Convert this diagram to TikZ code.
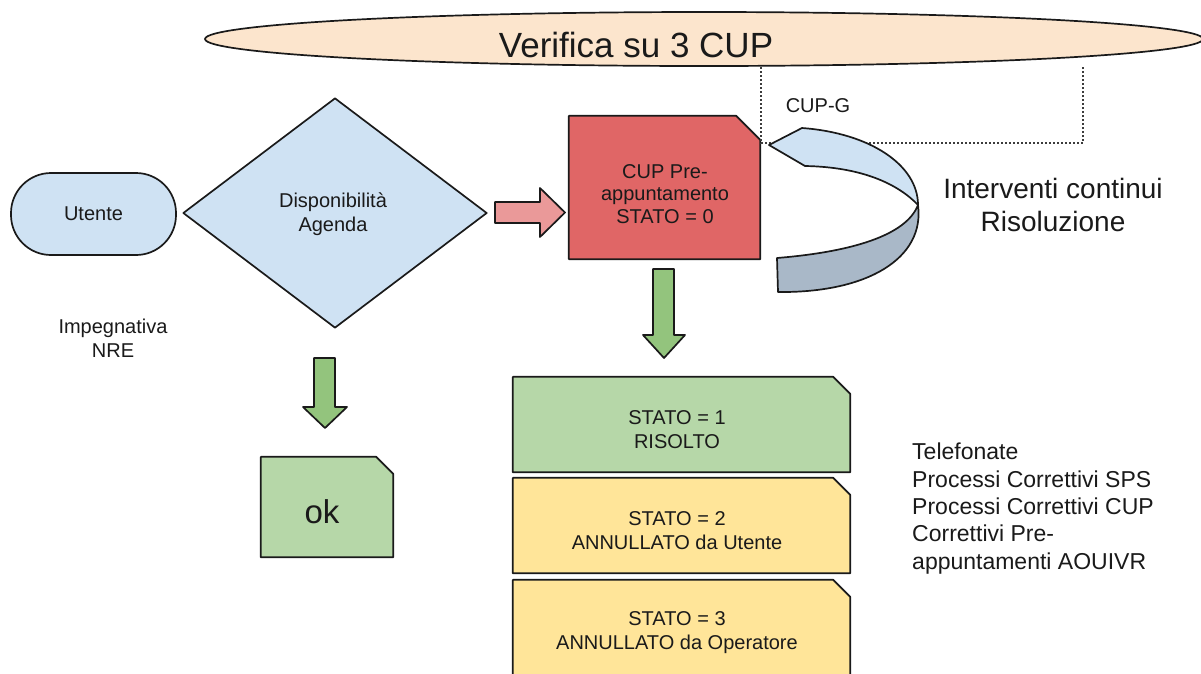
\documentclass[tikz,border=0pt]{standalone}
\usepackage{fontspec}
\setmainfont{Liberation Sans}
\usetikzlibrary{shapes.geometric,backgrounds}
\definecolor{peach}{HTML}{FCE5CD}
\definecolor{lblue}{HTML}{CFE2F3}
\definecolor{dblue}{HTML}{A9B8C8}
\definecolor{redbox}{HTML}{E06666}
\definecolor{pinkar}{HTML}{EA9999}
\definecolor{greenar}{HTML}{93C47D}
\definecolor{greenbox}{HTML}{B6D7A8}
\definecolor{yellowbox}{HTML}{FFE599}
\definecolor{ink}{HTML}{1A1A1A}
\tikzset{
  outline/.style={draw=ink, line width=1.7pt, line join=round},
  lbl/.style={font=\fontsize{20}{24}\selectfont, align=center, text=ink, inner sep=0pt},
  area/.style={inner sep=0pt, draw=none},
  dots/.style={draw=ink!85, line width=1.8pt, dash pattern=on 1.6pt off 2.4pt},
}
\newcommand\cutshape[3]{%
  \path[outline, fill=#3] (#1.south west) -- (#1.north west) -- ([xshift=-#2]#1.north east) -- ([yshift=-#2]#1.north east) -- (#1.south east) -- cycle;}
\begin{document}
\begin{tikzpicture}[x=1pt,y=-1pt]
\useasboundingbox (0,0) rectangle (1201,673);

% top ellipse
\node[ellipse, outline, fill=peach, minimum width=998pt, minimum height=54pt, inner sep=0pt] (cup3) at (704,39) {};
\node[lbl, font=\fontsize{35}{40}\selectfont] (cup3txt) at (636,45) {Verifica su 3 CUP};

% dotted frame
\coordinate (d1) at (761,67);
\coordinate (d2) at (761,143);
\coordinate (d3) at (1083,143);
\coordinate (d4) at (1083,67);
\draw[dots] (d1) -- (d2) -- (d3) -- (d4);
\node[lbl] (cupg) at (818,106) {CUP-G};

% ribbon arrow
\path[outline, fill=lblue] (769,145) -- (802,128) .. controls (870,133) and (918,165) .. (918,205)
  .. controls (898,184) and (862,167) .. (805,166) -- cycle;
\path[outline, fill=dblue] (918,205) .. controls (925,258) and (868,293) .. (778,292)
  -- (777,258) .. controls (850,252) and (906,236) .. (918,205) -- cycle;
\node[lbl, font=\fontsize{28}{33}\selectfont] (interv) at (1053,205) {Interventi continui\\Risoluzione};

% Utente
\node[lbl, outline, fill=lblue, rounded corners=40pt, minimum width=165pt, minimum height=82pt] (ut) at (93.5,214) {Utente};
\node[lbl] (imp) at (113,338) {Impegnativa\\NRE};

% diamond
\node[diamond, outline, fill=lblue, minimum width=304pt, minimum height=230pt, inner sep=0pt] (disp) at (335,213) {};
\node[lbl] (disptxt) at (333,214) {Disponibilità\\Agenda};

% block arrows
\path[outline, fill=pinkar] (495,202) -- (540,202) -- (540,188) -- (565,212.5) -- (540,237) -- (540,223) -- (495,223) -- cycle;
\path[outline, fill=greenar] (653,269) -- (674,269) -- (674,335) -- (685,335) -- (664,358) -- (643,335) -- (653,335) -- cycle;
\path[outline, fill=greenar] (314,358) -- (335,358) -- (335,407) -- (347,407) -- (325,428) -- (303,407) -- (314,407) -- cycle;

% chamfered boxes
\node[area, minimum width=191pt, minimum height=143pt] (pre) at (664.5,187.5) {};
\node[lbl, font=\fontsize{20}{22.5}\selectfont] (pretxt) at (665,194) {CUP Pre-\\appuntamento\\STATO = 0};
\node[area, minimum width=132pt, minimum height=100pt] (ok) at (327,507) {};
\node[lbl, font=\fontsize{33}{36}\selectfont] (oktxt) at (322,512) {ok};
\node[area, minimum width=337pt, minimum height=95pt] (s1) at (681.5,424.5) {};
\node[lbl] (s1txt) at (677,430) {STATO = 1\\RISOLTO};
\node[area, minimum width=337pt, minimum height=95pt] (s2) at (681.5,525.5) {};
\node[lbl] (s2txt) at (677,531) {STATO = 2\\ANNULLATO da Utente};
\node[area, minimum width=337pt, minimum height=110pt] (s3) at (681.5,635) {};
\node[lbl] (s3txt) at (677,633) {STATO = 3\\ANNULLATO da Operatore};
\begin{pgfonlayer}{background}
\fill[white] (0,0) rectangle (1201,673);
\cutshape{pre}{24pt}{redbox}
\cutshape{ok}{17pt}{greenbox}
\cutshape{s1}{17pt}{greenbox}
\cutshape{s2}{17pt}{yellowbox}
\cutshape{s3}{17pt}{yellowbox}
\end{pgfonlayer}

% notes
\node[lbl, align=left, anchor=north west, font=\fontsize{23}{27.3}\selectfont] (notes) at (912,443) {Telefonate\\Processi Correttivi SPS\\Processi Correttivi CUP\\Correttivi Pre-\\appuntamenti AOUIVR};
\end{tikzpicture}
\end{document}
